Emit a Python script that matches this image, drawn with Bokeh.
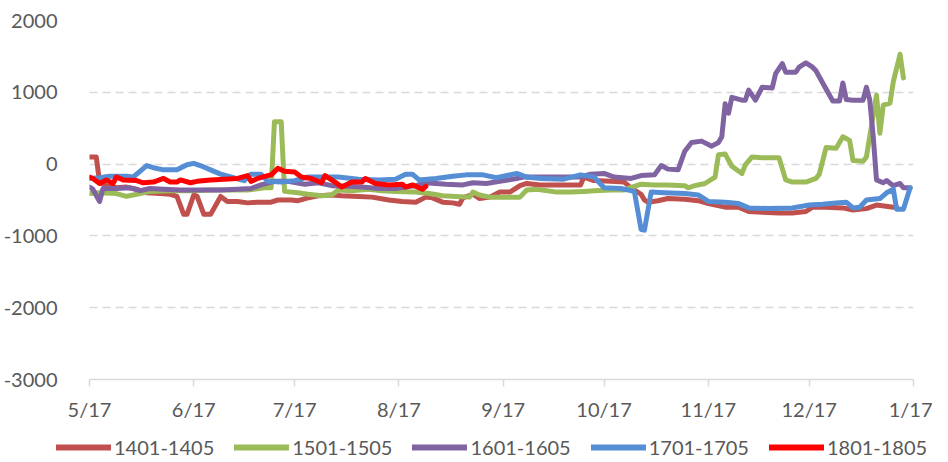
import pandas as pd
from bokeh.plotting import figure
from bokeh.layouts import column
from bokeh.models import Range1d, FixedTicker, Legend, LegendItem
from bokeh.embed import file_html
from bokeh.resources import INLINE

# ---- data (x = days since 5/17, y = spread value) ----
tick_labels = ["5/17", "6/17", "7/17", "8/17", "9/17", "10/17", "11/17", "12/17", "1/17"]
tick_dates = ["2017-05-17", "2017-06-17", "2017-07-17", "2017-08-17", "2017-09-17",
              "2017-10-17", "2017-11-17", "2017-12-17", "2018-01-17"]
y_ticks = [-3000, -2000, -1000, 0, 1000, 2000]

s1401_day = [0, 2, 3, 5, 8, 11, 14, 17, 21, 24, 26, 28, 29, 31, 32, 34, 36, 39, 41, 44,
             47, 50, 54, 56, 60, 62, 65, 68, 72, 75, 80, 84, 89, 93, 97, 100, 102, 105, 108, 110,
             111, 114, 116, 119, 122, 125, 128, 130, 134, 139, 143, 146, 147, 150, 155, 159, 161, 164, 165, 166,
             169, 172, 177, 181, 184, 189, 193, 196, 200, 205, 209, 213, 215, 219, 224, 227, 231, 234, 239, 240]
s1401_val = [100, 100, -250, -300, -330, -320, -350, -400, -410, -420, -450, -700, -700, -430, -450, -700, -700, -450, -520, -520,
             -540, -530, -530, -500, -500, -510, -470, -440, -430, -440, -450, -460, -500, -520, -530, -460, -470, -530, -540, -560,
             -470, -420, -480, -460, -390, -390, -300, -270, -290, -290, -290, -290, -180, -230, -240, -250, -330, -420, -500, -530,
             -510, -480, -490, -510, -550, -600, -600, -660, -670, -680, -680, -660, -600, -600, -610, -640, -620, -570, -600, -600]

s1501_day = [0, 3, 8, 11, 14, 18, 24, 30, 36, 41, 47, 52, 54, 55, 57, 58, 62, 65, 69, 72,
             74, 78, 83, 87, 91, 97, 101, 105, 109, 113, 114, 116, 119, 124, 128, 130, 133, 139, 143, 147,
             150, 155, 159, 162, 164, 168, 172, 177, 178, 180, 183, 186, 187, 189, 191, 194, 195, 197, 200, 205,
             207, 209, 213, 216, 217, 219, 222, 224, 226, 227, 230, 231, 234, 235, 236, 238, 239, 241, 242]
s1501_val = [-410, -400, -410, -450, -420, -380, -370, -370, -360, -360, -360, -330, -330, 590, 590, -380, -400, -420, -440, -430,
             -360, -370, -350, -370, -380, -390, -410, -440, -450, -460, -390, -430, -460, -460, -460, -360, -350, -390, -390, -380,
             -370, -360, -360, -310, -280, -290, -290, -300, -330, -300, -270, -180, 130, 140, -30, -130, -10, 100, 90, 90,
             -220, -250, -250, -200, -140, 230, 220, 380, 330, 50, 40, 100, 960, 430, 820, 850, 1150, 1530, 1200]

s1601_day = [0, 1, 3, 4, 8, 12, 15, 18, 22, 27, 33, 39, 44, 48, 51, 55, 59, 64, 68, 72,
             77, 81, 86, 91, 97, 100, 106, 111, 114, 118, 122, 127, 129, 136, 141, 146, 149, 153, 156, 161,
             164, 168, 170, 172, 175, 177, 179, 182, 185, 187, 188, 189, 190, 191, 194, 195, 196, 198, 200, 203,
             204, 206, 207, 210, 211, 213, 215, 216, 218, 221, 223, 224, 225, 227, 230, 231, 232, 233, 234, 236,
             237, 239, 241, 242, 244]
s1601_val = [-320, -350, -520, -340, -340, -330, -370, -340, -350, -360, -360, -360, -350, -340, -290, -240, -240, -280, -260, -300,
             -310, -320, -340, -340, -300, -260, -280, -290, -260, -270, -240, -200, -180, -180, -180, -180, -140, -130, -180, -200,
             -160, -150, -20, -70, -80, 180, 300, 320, 250, 300, 380, 840, 710, 930, 890, 890, 1030, 890, 1070, 1060,
             1260, 1400, 1280, 1280, 1350, 1410, 1350, 1300, 1130, 880, 880, 1130, 900, 890, 890, 1070, 890, 400, -220, -260,
             -230, -300, -270, -330, -330]

s1701_day = [0, 3, 6, 11, 13, 15, 17, 19, 22, 26, 29, 31, 34, 36, 39, 42, 46, 48, 51, 53,
             57, 61, 65, 74, 80, 86, 91, 94, 96, 98, 103, 108, 112, 117, 121, 127, 130, 134, 141, 146,
             150, 153, 158, 162, 164, 165, 167, 171, 177, 181, 184, 189, 193, 196, 202, 209, 214, 218, 222, 225,
             227, 229, 231, 235, 237, 239, 240, 242, 244]
s1701_val = [-200, -190, -170, -170, -180, -100, -20, -50, -80, -80, -10, 10, -40, -80, -140, -180, -230, -140, -140, -240,
             -250, -230, -180, -180, -210, -220, -210, -140, -140, -220, -200, -170, -150, -150, -190, -130, -180, -200, -210, -150,
             -180, -330, -340, -380, -910, -920, -390, -400, -410, -430, -520, -530, -550, -610, -620, -610, -570, -560, -540, -530,
             -610, -600, -500, -480, -400, -350, -630, -630, -330]

s1801_day = [0, 1, 3, 5, 7, 8, 10, 14, 16, 19, 22, 24, 26, 27, 30, 32, 36, 40, 44, 47,
             48, 50, 53, 54, 56, 58, 61, 63, 66, 69, 70, 73, 75, 78, 81, 82, 85, 89, 93, 94,
             96, 99, 100]
s1801_val = [-180, -200, -270, -220, -270, -180, -220, -230, -260, -250, -200, -250, -250, -220, -260, -240, -220, -210, -200, -160,
             -240, -200, -160, -150, -60, -100, -110, -180, -200, -260, -160, -250, -320, -250, -250, -200, -270, -290, -280, -320,
             -290, -350, -310]

series = [
    ("1401-1405", s1401_day, s1401_val, "#C0504D"),
    ("1501-1505", s1501_day, s1501_val, "#9BBB59"),
    ("1601-1605", s1601_day, s1601_val, "#8064A2"),
    ("1701-1705", s1701_day, s1701_val, "#558ED5"),
    ("1801-1805", s1801_day, s1801_val, "#FF0000"),
]

base = pd.Timestamp(tick_dates[0])
tick_pos = [(pd.Timestamp(d) - base).days for d in tick_dates]

FONT = "Lato"
TXT = "#595959"
LW = 5

p = figure(width=932, height=425, output_backend="svg", toolbar_location=None,
           x_range=Range1d(tick_pos[0], tick_pos[-1]), y_range=Range1d(y_ticks[0], y_ticks[-1]),
           min_border_left=81, min_border_right=19, min_border_top=20, min_border_bottom=46)
p.outline_line_color = None
p.background_fill_color = "white"

for name, d, v, c in series:
    p.line(d, v, line_color=c, line_width=LW, line_join="round", line_cap="round")

# grid
p.xgrid.visible = False
p.ygrid.ticker = FixedTicker(ticks=y_ticks)
p.ygrid.grid_line_color = "#D9D9D9"
p.ygrid.grid_line_width = 1.5
p.ygrid.grid_line_dash = "8 5"

# y axis
p.yaxis.ticker = FixedTicker(ticks=y_ticks)
p.yaxis.major_label_overrides = {t: str(t) for t in y_ticks}
p.yaxis.axis_line_color = None
p.yaxis.major_tick_line_color = None
p.yaxis.minor_tick_line_color = None
p.yaxis.major_label_standoff = 26
p.yaxis.major_label_text_font = FONT
p.yaxis.major_label_text_font_size = "20px"
p.yaxis.major_label_text_color = TXT

# x axis
p.xaxis.ticker = FixedTicker(ticks=tick_pos)
p.xaxis.major_label_overrides = {t: l for t, l in zip(tick_pos, tick_labels)}
p.xaxis.axis_line_color = "#D9D9D9"
p.xaxis.axis_line_width = 1.5
p.xaxis.major_tick_line_color = "#D9D9D9"
p.xaxis.major_tick_line_width = 1.5
p.xaxis.major_tick_out = 7
p.xaxis.major_tick_in = 0
p.xaxis.minor_tick_line_color = None
p.xaxis.major_label_standoff = 10
p.xaxis.major_label_text_font = FONT
p.xaxis.major_label_text_font_size = "20px"
p.xaxis.major_label_text_color = TXT

# legend strip (its own frame spans the full width; series drawn off-range so only the legend shows)
lg = figure(width=932, height=36, output_backend="svg", toolbar_location=None,
            x_range=Range1d(-2, -1), y_range=Range1d(-2, -1), min_border=0)
lg.frame_align = False
lg.axis.visible = False
lg.grid.visible = False
lg.outline_line_color = None
items = []
for name, d, v, c in series:
    r = lg.line(d, v, line_color=c, line_width=LW + 1, line_cap="round")
    items.append(LegendItem(label=name, renderers=[r]))
legend = Legend(items=items, orientation="horizontal", location=(56, 2),
                glyph_width=55, glyph_height=22, label_standoff=3, spacing=20,
                padding=0, margin=0, border_line_color=None, background_fill_alpha=0,
                label_text_font=FONT, label_text_font_size="20px", label_text_color=TXT)
lg.add_layout(legend, "center")

layout = column(p, lg, spacing=0)
open("out.html", "w").write(file_html(layout, INLINE))
